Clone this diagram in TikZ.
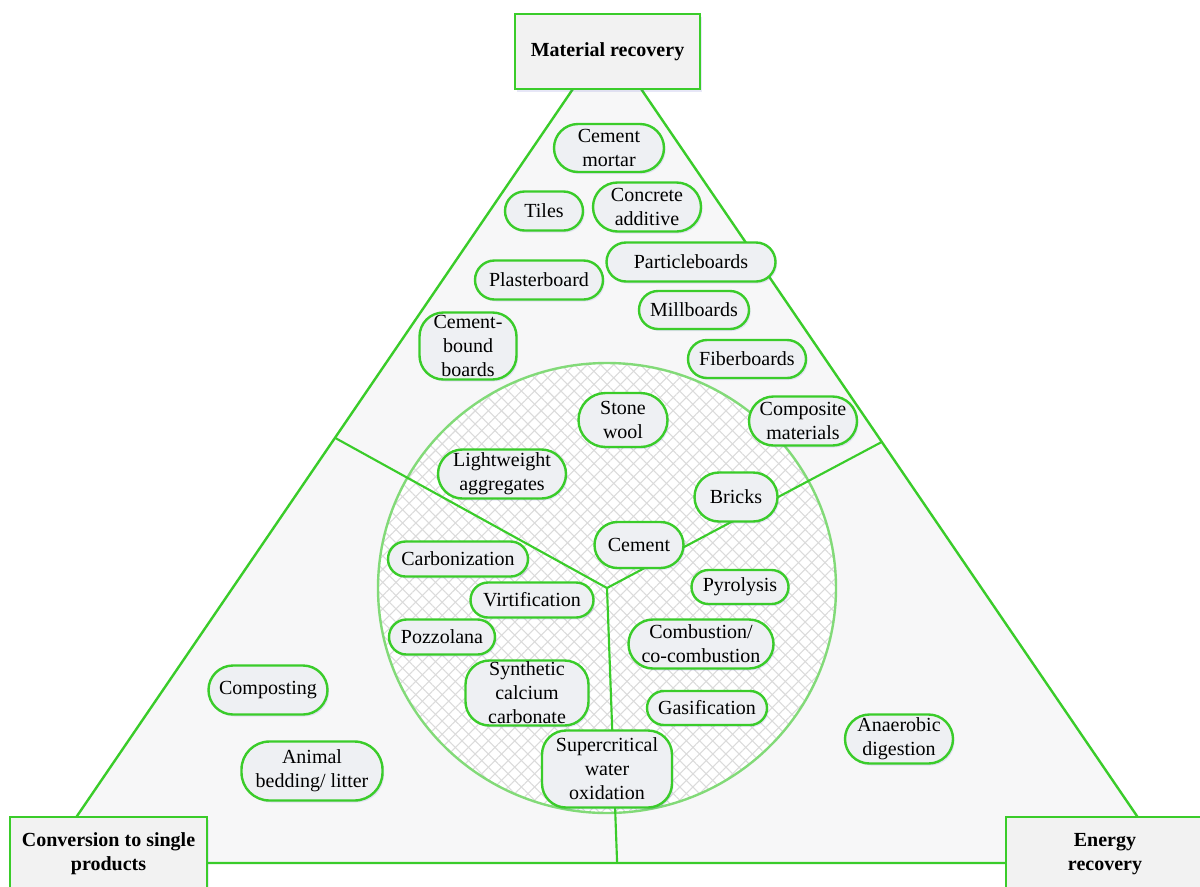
\documentclass[tikz,border=0pt]{standalone}
\usepackage{fontspec}
\setmainfont{Liberation Serif}
\usepackage{tikz}
\usetikzlibrary{patterns.meta,shadows,calc,shapes.misc}

\definecolor{lgreen}{RGB}{58,204,42}
\definecolor{pgreen}{RGB}{130,218,120}
\definecolor{itemfill}{RGB}{238,240,243}
\definecolor{boxfill}{RGB}{242,242,242}
\definecolor{trifill}{RGB}{247,247,248}

\tikzset{
  item/.style={draw=lgreen, line width=1.8pt, fill=itemfill,
    align=center, inner sep=0pt, font=\fontsize{15}{18}\selectfont,
    drop shadow={opacity=0.12, fill=blue!50!gray, shadow xshift=1.2pt, shadow yshift=-1.5pt}},
  pill/.style={item, rounded rectangle},
  tall/.style={item, rounded corners=18pt},
  corner/.style={draw=lgreen, line width=1.8pt, fill=boxfill, align=center, inner sep=0pt,
    font=\fontsize{15}{18}\selectfont\bfseries,
    drop shadow={opacity=0.12, fill=blue!50!gray, shadow xshift=1.5pt, shadow yshift=-2pt}},
  divide/.style={lgreen, line width=1.6pt}
}

\begin{document}
\begin{tikzpicture}[x=0.75pt, y=-0.75pt]
  \useasboundingbox (0,0) rectangle (1200,886);
  \fill[white] (0,0) rectangle (1200,886);

  \coordinate (apex) at (607,39);
  \coordinate (bl) at (45,863);
  \coordinate (br) at (1169,863);
  \coordinate (hub) at (607,588);
  \coordinate (lend) at ($(apex)!0.484!(bl)$);
  \coordinate (rend) at ($(apex)!0.489!(br)$);
  \coordinate (bend) at ($(bl)!0.509!(br)$);

  \filldraw[fill=trifill, draw=lgreen, line width=1.8pt] (apex) -- (bl) -- (br) -- cycle;

  \fill[white] (hub) ellipse [x radius=171.75pt, y radius=168.75pt];
  \fill[pattern={Lines[angle=45, distance=7pt, line width=0.8pt]}, pattern color=gray!28]
    (hub) ellipse [x radius=171.75pt, y radius=168.75pt];
  \fill[pattern={Lines[angle=-45, distance=7pt, line width=0.8pt]}, pattern color=gray!28]
    (hub) ellipse [x radius=171.75pt, y radius=168.75pt];
  \draw[pgreen, line width=1.8pt] (hub) ellipse [x radius=171.75pt, y radius=168.75pt];

  \draw[divide] (hub) -- (lend);
  \draw[divide] (hub) -- (rend);
  \draw[divide] (hub) -- (bend);

  \node[pill, minimum width=82.5pt, minimum height=36pt] (mortar) at (609,148) {Cement\\mortar};
  \node[pill, minimum width=58.5pt, minimum height=29.25pt] (tiles) at (544,211) {Tiles};
  \node[pill, minimum width=81pt, minimum height=36.75pt] (additive) at (647,207) {Concrete\\additive};
  \node[pill, minimum width=126.75pt, minimum height=29.25pt] (particle) at (691,262) {Particleboards};
  \node[pill, minimum width=96pt, minimum height=29.25pt] (plaster) at (539,280) {Plasterboard};
  \node[pill, minimum width=82.5pt, minimum height=28.5pt] (mill) at (694,310) {Millboards};
  \node[tall, minimum width=72.75pt, minimum height=50.25pt] (cbound) at (468,346) {Cement-\\bound\\boards};
  \node[pill, minimum width=88.5pt, minimum height=28.5pt] (fiber) at (747,359) {Fiberboards};
  \node[pill, minimum width=66.75pt, minimum height=40.5pt] (stone) at (623,420) {Stone\\wool};
  \node[pill, minimum width=81pt, minimum height=36.75pt] (composite) at (803,421) {Composite\\materials};
  \node[pill, minimum width=96pt, minimum height=36.75pt] (lightwt) at (502,474) {Lightweight\\aggregates};
  \node[pill, minimum width=62.25pt, minimum height=36.75pt] (bricks) at (736,497) {Bricks};
  \node[pill, minimum width=66.75pt, minimum height=34.5pt] (cement) at (639,545) {Cement};
  \node[pill, minimum width=105pt, minimum height=26.25pt] (carbon) at (458,559) {Carbonization};
  \node[pill, minimum width=92.25pt, minimum height=26.25pt] (virt) at (532,600) {Virtification};
  \node[pill, minimum width=72.75pt, minimum height=25.5pt] (pyro) at (740,587) {Pyrolysis};
  \node[pill, minimum width=79.5pt, minimum height=26.25pt] (pozz) at (442,637) {Pozzolana};
  \node[pill, minimum width=108.75pt, minimum height=36.75pt] (combust) at (701,644) {Combustion/\\co-combustion};
  \node[tall, minimum width=92.25pt, minimum height=48.75pt] (synth) at (527,693) {Synthetic\\calcium\\carbonate};
  \node[pill, minimum width=90pt, minimum height=25.5pt] (gasif) at (707,708) {Gasification};
  \node[pill, minimum width=89.25pt, minimum height=36.75pt] (compost) at (268,690) {Composting};
  \node[tall, minimum width=97.5pt, minimum height=57.75pt] (supercrit) at (607,769) {Supercritical\\water\\oxidation};
  \node[pill, minimum width=81pt, minimum height=36.75pt] (anaer) at (899,739) {Anaerobic\\digestion};
  \node[tall, rounded corners=21pt, minimum width=105.75pt, minimum height=44.25pt] (animal) at (312,771) {Animal\\bedding/ litter};

  \node[corner, minimum width=138.75pt, minimum height=56.25pt] (matrec) at (607.5,51.5) {Material recovery};
  \node[corner, minimum width=147.75pt, minimum height=55.5pt] (convert) at (108.5,854) {Conversion to single\\products};
  \node[corner, minimum width=148.5pt, minimum height=55.5pt] (energy) at (1105,854) {Energy\\recovery};
\end{tikzpicture}
\end{document}
